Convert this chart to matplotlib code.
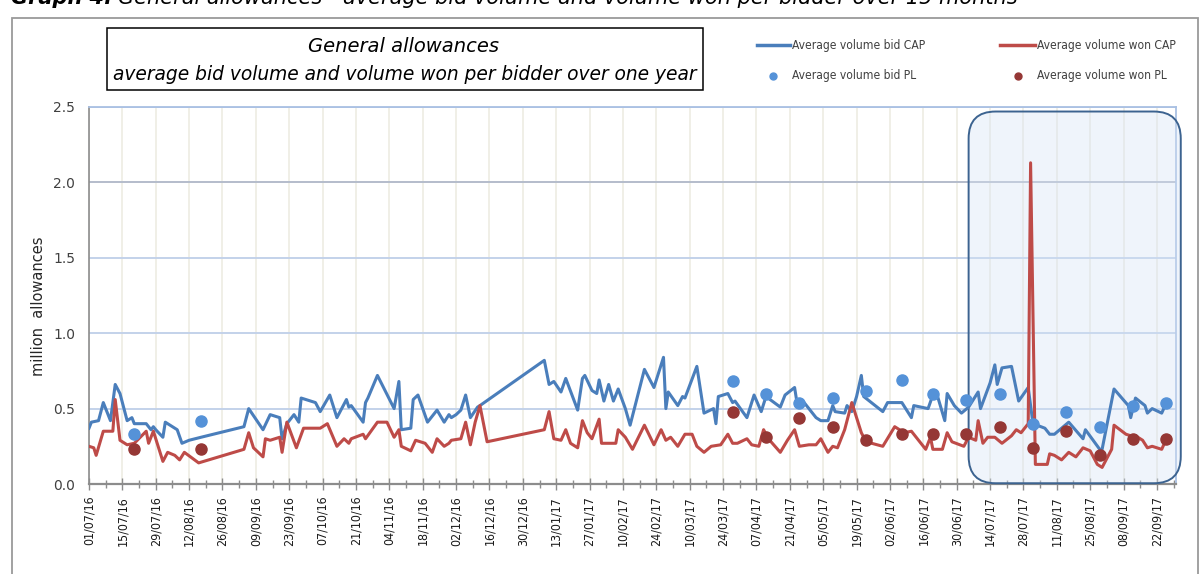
import numpy as np
import pandas as pd
import matplotlib
matplotlib.use('Agg')
import matplotlib.pyplot as plt
import matplotlib.dates as mdates
from matplotlib.ticker import FormatStrFormatter
from matplotlib.patches import Rectangle, FancyBboxPatch
from matplotlib.lines import Line2D

# ---- data (days after 01/07/16, million allowances) ----
start = pd.Timestamp('2016-07-01')
end = pd.Timestamp('2017-09-30')

bid_cap_days = [0, 1, 4, 6, 9, 11, 13, 16, 18, 19, 24, 26, 27, 28, 31, 32, 37, 39, 42, 47,
                65, 67, 73, 76, 80, 81, 83, 86, 88, 89, 95, 97, 101, 104, 108, 109, 110,
                115, 116, 117, 121, 128, 130, 131, 135, 136, 138, 142, 146, 149, 151, 152,
                154, 156, 158, 160, 163, 164, 191, 193, 195, 198, 200, 205, 207, 208, 211,
                213, 214, 216, 218, 220, 222, 225, 227, 233, 237, 241, 242, 243, 247, 249,
                250, 255, 258, 262, 263, 264, 268, 270, 271, 276, 279, 282, 284, 290, 292,
                296, 297, 300, 305, 307, 310, 312, 313, 317, 318, 320, 322, 324, 325, 333,
                335, 341, 345, 346, 352, 354, 356, 359, 360, 363, 366, 369, 373, 374, 378,
                380, 381, 383, 387, 390, 394, 396, 401, 403, 405, 411, 417, 418, 424, 425,
                430, 436, 437, 439, 443, 444, 446, 450, 452]
bid_cap = [0.37, 0.41, 0.42, 0.54, 0.42, 0.66, 0.60, 0.42, 0.44, 0.40, 0.40, 0.36, 0.38, 0.36,
           0.31, 0.41, 0.36, 0.27, 0.29, 0.31, 0.38, 0.50, 0.36, 0.46, 0.44, 0.30, 0.40, 0.46,
           0.41, 0.57, 0.54, 0.48, 0.59, 0.44, 0.56, 0.51, 0.52, 0.41, 0.54, 0.57, 0.72, 0.50,
           0.68, 0.36, 0.37, 0.56, 0.59, 0.41, 0.49, 0.41, 0.46, 0.44, 0.46, 0.49, 0.59, 0.44,
           0.51, 0.52, 0.82, 0.66, 0.68, 0.61, 0.70, 0.49, 0.70, 0.72, 0.62, 0.60, 0.69, 0.55,
           0.66, 0.55, 0.63, 0.50, 0.39, 0.76, 0.64, 0.84, 0.50, 0.61, 0.52, 0.58, 0.57, 0.78,
           0.47, 0.50, 0.40, 0.58, 0.60, 0.54, 0.55, 0.44, 0.59, 0.48, 0.58, 0.51, 0.59, 0.64,
           0.54, 0.54, 0.44, 0.42, 0.42, 0.52, 0.48, 0.47, 0.52, 0.48, 0.58, 0.72, 0.58, 0.48,
           0.54, 0.54, 0.44, 0.52, 0.50, 0.59, 0.58, 0.42, 0.60, 0.52, 0.47, 0.51, 0.61, 0.50,
           0.67, 0.79, 0.66, 0.77, 0.78, 0.55, 0.64, 0.40, 0.37, 0.33, 0.33, 0.41, 0.30, 0.36,
           0.23, 0.23, 0.63, 0.52, 0.44, 0.57, 0.52, 0.47, 0.50, 0.47, 0.54]

won_cap_days = [0, 2, 3, 6, 10, 11, 13, 16, 19, 24, 25, 27, 31, 33, 36, 38, 40, 46, 65, 67, 69,
                73, 74, 76, 80, 81, 83, 87, 90, 97, 100, 104, 107, 109, 110, 115, 116, 121,
                125, 128, 130, 131, 135, 137, 141, 144, 146, 149, 151, 152, 156, 158, 160, 162,
                164, 167, 191, 193, 195, 198, 200, 202, 205, 207, 209, 211, 214, 215, 221, 222,
                225, 228, 233, 237, 240, 242, 244, 247, 250, 253, 255, 258, 261, 265, 268, 270,
                272, 276, 278, 281, 283, 285, 290, 293, 296, 298, 302, 305, 307, 310, 312, 314,
                317, 320, 324, 326, 333, 338, 342, 345, 351, 353, 354, 358, 360, 362, 367, 369,
                372, 373, 375, 377, 380, 383, 387, 389, 391, 394, 395, 397, 402, 403, 405, 408,
                411, 414, 417, 420, 423, 425, 429, 430, 435, 437, 439, 442, 444, 446, 450, 452]
won_cap = [0.25, 0.24, 0.19, 0.35, 0.35, 0.56, 0.29, 0.26, 0.27, 0.35, 0.27, 0.35, 0.15, 0.21,
           0.19, 0.16, 0.21, 0.14, 0.23, 0.34, 0.24, 0.18, 0.30, 0.29, 0.31, 0.21, 0.41, 0.24,
           0.37, 0.37, 0.40, 0.25, 0.30, 0.27, 0.30, 0.33, 0.30, 0.41, 0.41, 0.31, 0.36, 0.25,
           0.22, 0.29, 0.27, 0.21, 0.30, 0.25, 0.27, 0.29, 0.30, 0.41, 0.26, 0.41, 0.52, 0.28,
           0.36, 0.48, 0.30, 0.29, 0.36, 0.27, 0.24, 0.42, 0.34, 0.30, 0.43, 0.27, 0.27, 0.36,
           0.31, 0.23, 0.39, 0.26, 0.36, 0.29, 0.31, 0.25, 0.33, 0.33, 0.25, 0.21, 0.25, 0.26,
           0.33, 0.27, 0.27, 0.30, 0.26, 0.25, 0.36, 0.30, 0.21, 0.29, 0.36, 0.25, 0.26, 0.26,
           0.30, 0.21, 0.25, 0.24, 0.36, 0.54, 0.34, 0.28, 0.25, 0.38, 0.34, 0.35, 0.23, 0.31,
           0.23, 0.23, 0.34, 0.28, 0.25, 0.31, 0.29, 0.42, 0.27, 0.31, 0.31, 0.27, 0.32, 0.36,
           0.34, 0.40, 2.13, 0.13, 0.13, 0.20, 0.19, 0.16, 0.21, 0.18, 0.24, 0.22, 0.13, 0.11,
           0.23, 0.39, 0.33, 0.32, 0.32, 0.29, 0.24, 0.25, 0.23, 0.30]

pl_days = [19, 47, 270, 284, 298, 312, 326, 341, 354, 368, 382, 396, 410, 424, 438, 452]
bid_pl = [0.33, 0.42, 0.68, 0.60, 0.54, 0.57, 0.62, 0.69, 0.60, 0.56, 0.60, 0.40, 0.48, 0.38,
          0.52, 0.54]
won_pl = [0.23, 0.23, 0.48, 0.31, 0.44, 0.38, 0.29, 0.33, 0.33, 0.33, 0.38, 0.24, 0.35, 0.19,
          0.30, 0.30]

# highlighted period
box_start = pd.Timestamp('2017-07-05')
box_end = pd.Timestamp('2017-10-02')
box_bottom, box_top = 0.005, 2.47

BLUE = '#4a7ebb'
RED = '#be4b48'
BLUE_DOT = '#5592d8'
RED_DOT = '#953735'


def to_dates(days):
    return start + pd.to_timedelta(days, unit='D')


W, H = 1201, 574
fig = plt.figure(figsize=(W / 100, H / 100), dpi=100)


def fx(px):
    return px / W


def fy(py):
    return 1 - py / H


ax = fig.add_axes([fx(89), fy(484), fx(1176) - fx(89), fy(107) - fy(484)])

ax.plot(to_dates(bid_cap_days), bid_cap, color=BLUE, lw=2.2, zorder=4, solid_joinstyle='round')
ax.plot(to_dates(won_cap_days), won_cap, color=RED, lw=2.2, zorder=5, solid_joinstyle='round')
ax.plot(to_dates(pl_days), bid_pl, 'o', color=BLUE_DOT, ms=8, zorder=6)
ax.plot(to_dates(pl_days), won_pl, 'o', color=RED_DOT, ms=8, zorder=6)

ax.set_xlim(start, end)
ax.set_ylim(0, 2.5)
ax.set_yticks(np.arange(0, 2.51, 0.5))
ax.yaxis.set_major_formatter(FormatStrFormatter('%.1f'))
ax.set_xticks(pd.date_range(start, end, freq='14D'))
ax.set_xticks(pd.date_range(start, end, freq='7D'), minor=True)
ax.xaxis.set_major_formatter(mdates.DateFormatter('%d/%m/%y'))

ax.tick_params(axis='y', length=0, pad=10, labelsize=10, labelcolor='#404040')
ax.tick_params(axis='x', which='major', direction='inout', length=9, width=1, color='#8c8c8c',
               labelrotation=90, pad=4, labelcolor='#1a1a1a')
ax.tick_params(axis='x', which='minor', direction='inout', length=6, width=1, color='#8c8c8c')
for lab in ax.get_xticklabels():
    lab.set_family('DejaVu Sans')
    lab.set_fontstretch('condensed')
    lab.set_fontsize(8.9)

ax.grid(axis='y', color='#c3d2ea', lw=1.4, zorder=0)
ax.grid(axis='x', which='major', color='#ecebe0', lw=1.1, zorder=0)
ax.set_axisbelow(True)
ax.get_ygridlines()[4].set_color('#b4bccb')

for s in ['left', 'bottom']:
    ax.spines[s].set_color('#8c8c8c')
ax.spines['bottom'].set_linewidth(1.6)
ax.spines['left'].set_linewidth(1.2)
for s in ['top', 'right']:
    ax.spines[s].set_color('#a9c0e3')
    ax.spines[s].set_linewidth(1.3)

ax.set_ylabel('million  allowances', fontsize=10.5, color='#262626')
ax.yaxis.set_label_coords((46 - 89) / 1087, (484 - 306) / 377)

# rounded highlight box
px_per_day = ax.get_window_extent().width / (mdates.date2num(end) - mdates.date2num(start))
px_per_unit = ax.get_window_extent().height / 2.5
x0 = mdates.date2num(box_start)
x1 = mdates.date2num(box_end)
box = FancyBboxPatch((x0, box_bottom), x1 - x0, box_top - box_bottom,
                     boxstyle='round,pad=0,rounding_size=%f' % (27 / px_per_day),
                     mutation_aspect=px_per_day / px_per_unit,
                     facecolor=(0.84, 0.89, 0.96, 0.38), edgecolor='#3c6390', lw=1.4,
                     transform=ax.transData, clip_on=False, zorder=3)
ax.add_patch(box)

# outer frame
fig.add_artist(Rectangle((fx(12), fy(590)), fx(1198) - fx(12), fy(18) - fy(590),
                         transform=fig.transFigure, fill=False, ec='#9a9a9a', lw=1.3))

renderer = fig.canvas.get_renderer()


def fit_width(t, width_px):
    w = t.get_window_extent(renderer).width
    t.set_fontsize(t.get_fontsize() * width_px / w)


# cut-off caption at top
t1 = fig.text(fx(11), fy(3.5), 'Graph 4:', fontsize=15, fontweight='bold', style='italic',
              va='baseline', ha='left')
w1 = t1.get_window_extent(renderer).width
t2 = fig.text(fx(11) + (w1 + 5) / W, fy(3.5),
              'General allowances - average bid volume and volume won per bidder over 15 months',
              fontsize=15, style='italic', va='baseline', ha='left')

# title box
fig.add_artist(Rectangle((fx(107), fy(90)), fx(703) - fx(107), fy(28) - fy(90),
                         transform=fig.transFigure, fill=False, ec='black', lw=1.1))
b1 = fig.text(fx(403), fy(46), 'General allowances', style='italic', fontsize=13,
              ha='center', va='center', color='black')
b2 = fig.text(fx(405), fy(75), 'average bid volume and volume won per bidder over one year',
              style='italic', fontsize=13, ha='center', va='center', color='black')
fit_width(b1, 190)
fit_width(b2, 582)

# legend
fig.add_artist(Line2D([fx(757), fx(790)], [fy(45), fy(45)], color=BLUE, lw=2.5,
                      transform=fig.transFigure))
fig.add_artist(Line2D([fx(1000), fx(1035)], [fy(45), fy(45)], color=RED, lw=2.5,
                      transform=fig.transFigure))
fig.add_artist(Line2D([fx(773)], [fy(76)], marker='o', ms=5, color=BLUE_DOT,
                      transform=fig.transFigure))
fig.add_artist(Line2D([fx(1018)], [fy(76)], marker='o', ms=5, color=RED_DOT,
                      transform=fig.transFigure))
for x, y, txt in [(792, 45, 'Average volume bid CAP'), (1037, 45, 'Average volume won CAP'),
                  (792, 76, 'Average volume bid PL'), (1037, 76, 'Average volume won PL')]:
    lt = fig.text(fx(x), fy(y), txt, fontsize=8.5, family='DejaVu Sans', fontstretch='condensed',
                  color='#404040', ha='left', va='center')
    if txt == 'Average volume bid CAP':
        fit_width(lt, 133)
        leg_size = lt.get_fontsize()
    else:
        lt.set_fontsize(leg_size)

fig.savefig('out.png', dpi=100)
